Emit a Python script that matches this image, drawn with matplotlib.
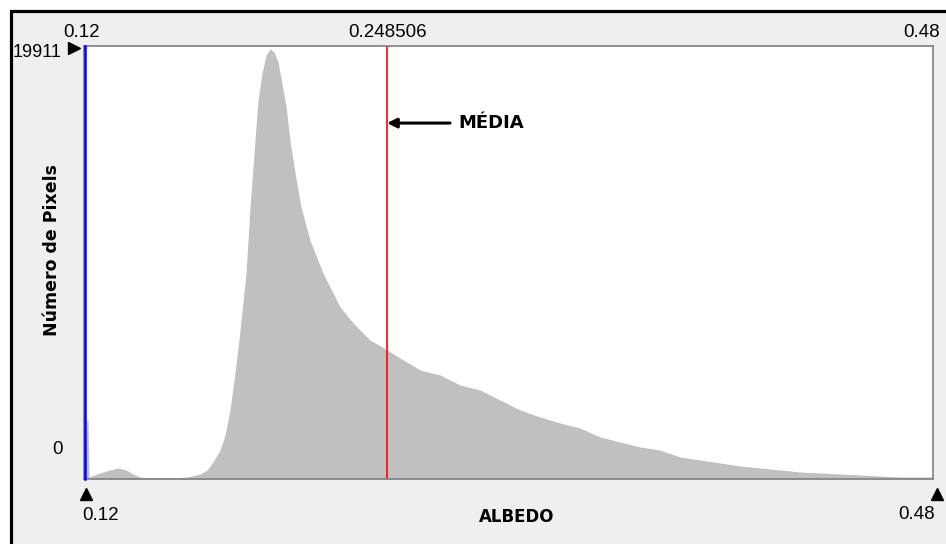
import matplotlib
matplotlib.use('Agg')
import matplotlib.pyplot as plt
from matplotlib.lines import Line2D
from matplotlib.patches import Rectangle
import numpy as np

# histograma do albedo
albedo = [0.1204, 0.1212, 0.1217, 0.1221, 0.1268, 0.1310, 0.1344, 0.1378, 0.1408,
          0.1437, 0.1480, 0.1586, 0.1637, 0.1692, 0.1722, 0.1747, 0.1777, 0.1798,
          0.1819, 0.1840, 0.1857, 0.1887, 0.1904, 0.1925, 0.1938, 0.1955, 0.1972,
          0.1989, 0.2006, 0.2023, 0.2031, 0.2057, 0.2073, 0.2095, 0.2120, 0.2158,
          0.2213, 0.2286, 0.2341, 0.2413, 0.2485, 0.2540, 0.2625, 0.2710, 0.2794,
          0.2879, 0.2964, 0.3049, 0.3134, 0.3218, 0.3303, 0.3388, 0.3473, 0.3558,
          0.3642, 0.3727, 0.3812, 0.3897, 0.3982, 0.4066, 0.4151, 0.4236, 0.4321,
          0.4406, 0.4490, 0.4575, 0.4660, 0.4745, 0.4795]
pixels = [50, 2730, 2730, 93, 278, 417, 509, 417, 232,
          93, 46, 46, 93, 232, 417, 787, 1343, 2037,
          3195, 4908, 6436, 9538, 12594, 15696, 17548, 18798, 19631,
          19911, 19770, 19307, 18798, 17224, 15696, 14168, 12594, 11066,
          9538, 7964, 7223, 6436, 5973, 5602, 5047, 4815, 4352,
          4121, 3658, 3195, 2871, 2593, 2361, 1945, 1713, 1482,
          1343, 1019, 880, 741, 602, 509, 417, 324, 278,
          232, 185, 139, 93, 93, 93]

x_min, x_max = 0.12, 0.48
media = 0.248506
y_max = 19911

fig = plt.figure(figsize=(9.46, 5.44), dpi=100, facecolor='white')
plt.rcParams['font.family'] = ['Liberation Sans', 'DejaVu Sans']

# fundo cinza com moldura preta
fig.add_artist(Rectangle((0.0116, -0.2), 1.2, 0.2 + 0.9798, transform=fig.transFigure,
                         facecolor='#efefef', edgecolor='black', linewidth=2.3,
                         zorder=-10))

ax = fig.add_axes([0.0888, 0.1195, 0.8975, 0.7960])
ax.set_zorder(1)
ax.set_facecolor('white')
ax.fill_between(albedo, pixels, 0, color='#c0c0c0', linewidth=0)
ax.axvline(media, color='#ff0000', linewidth=1.2)
ax.axvline(x_min + 0.0005, color='#0000ff', linewidth=1.8, zorder=5, clip_on=False)
ax.set_xlim(x_min, x_max)
ax.set_ylim(0, y_max * 1.007)
ax.set_xticks([])
ax.set_yticks([])
for s in ax.spines.values():
    s.set_color('#808080')
    s.set_linewidth(1.2)

# MÉDIA com seta
ax.annotate('', xy=(media, 16480), xytext=(0.2752, 16480),
            arrowprops=dict(arrowstyle='-|>', color='black', lw=2.2,
                            mutation_scale=14, shrinkA=0, shrinkB=0))
ax.text(0.2786, 16480, 'MÉDIA', fontsize=13, fontweight='bold',
        family='DejaVu Sans', va='center', ha='left')

# rotulos
fs = 13.5
fig.text(0.0867, 0.941, '0.12', fontsize=fs, ha='center', va='center')
fig.text(0.0888 + 0.8975 * (media - x_min) / (x_max - x_min), 0.941, '0.248506',
         fontsize=fs, ha='center', va='center')
fig.text(0.9937, 0.941, '0.48', fontsize=fs, ha='right', va='center')
fig.text(0.0650, 0.9026, '19911', fontsize=13, ha='right', va='center')
fig.text(0.0603, 0.1746, '0', fontsize=fs, ha='center', va='center')
fig.text(0.0867, 0.0533, '0.12', fontsize=fs, ha='left', va='center')
fig.text(0.9884, 0.0550, '0.48', fontsize=fs, ha='right', va='center')
fig.text(0.5465, 0.0496, 'ALBEDO', fontsize=12, fontweight='bold',
         family='DejaVu Sans', ha='center', va='center')
fig.text(0.055, 0.5404, 'Número de Pixels', fontsize=12.5, fontweight='bold',
         family='DejaVu Sans', rotation=90, ha='center', va='center')

# marcadores triangulares
fig.add_artist(Line2D([0.0782], [0.9118], marker='>', color='black', markersize=8,
                      transform=fig.transFigure, linestyle='none'))
fig.add_artist(Line2D([0.0909], [0.0919], marker='^', color='black', markersize=8,
                      transform=fig.transFigure, linestyle='none'))
fig.add_artist(Line2D([0.9905], [0.0919], marker='^', color='black', markersize=8,
                      transform=fig.transFigure, linestyle='none'))

plt.savefig('out.png', dpi=100, facecolor='white')
